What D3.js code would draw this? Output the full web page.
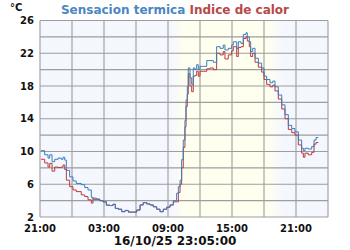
<!DOCTYPE html>
<html>
<head>
<meta charset="utf-8">
<script src="https://cdn.jsdelivr.net/npm/d3@7"></script>
<style>
  body { margin: 0; background: #fff; }
  text { font-family: "DejaVu Sans", sans-serif; font-weight: bold; }
</style>
</head>
<body>
<svg id="chart" width="350" height="250"></svg>
<script>
// hours elapsed since 15/10 21:00
const hours = [0.09, 0.44, 0.75, 0.91, 1.13, 1.38, 1.69, 2.0, 2.16, 2.32, 2.47, 2.78, 3.09, 3.40,
  3.87, 4.19, 4.5, 4.81, 4.97, 5.28, 5.6, 5.91, 6.22, 6.53, 6.84, 7.06, 7.34, 7.66, 7.97, 8.28,
  8.75, 9.07, 9.38, 9.68, 10.0, 10.31, 10.62, 10.94, 11.25, 11.56, 11.88, 12.19, 12.5, 12.81,
  12.97, 13.13, 13.28, 13.43, 13.59, 13.69, 13.81, 13.9, 14.06, 14.22, 14.37, 14.53, 14.69, 14.84,
  15.0, 15.31, 15.63, 15.94, 16.25, 16.56, 16.88, 17.18, 17.34, 17.65, 17.97, 18.12, 18.44, 18.59,
  18.84, 19.06, 19.31, 19.43, 19.62, 19.75, 19.94, 20.16, 20.47, 20.78, 21.0, 21.25, 21.56, 21.82,
  22.03, 22.34, 22.66, 22.97, 23.28, 23.6, 23.9, 24.22, 24.53, 24.69, 24.84, 25.15, 25.47, 25.69,
  25.88, 26.09];

// sensacion termica
const sensacion = [10.1, 9.6, 9.2, 9.6, 8.75, 9.05, 9.2, 9.05, 9.3, 8.95, 7.7, 6.9, 6.4, 6.1,
  5.95, 5.6, 5.3, 4.4, 4.15, 4.2, 4.0, 3.85, 3.45, 3.4, 3.55, 3.05, 2.95, 2.65, 2.8, 2.6,
  2.6, 2.85, 3.47, 3.75, 3.6, 3.47, 3.25, 2.95, 2.65, 2.95, 3.2, 3.47, 4.0, 4.9,
  5.7, 6.5, 9.0, 11.4, 13.8, 16.3, 17.9, 20.2, 19.0, 18.2, 20.2, 20.0, 20.6, 20.0,
  20.4, 20.4, 21.1, 21.1, 20.9, 22.8, 22.6, 23.0, 22.4, 22.6, 23.0, 23.4, 22.6, 23.4,
  23.2, 24.3, 24.5, 24.0, 23.4, 22.2, 22.6, 21.4, 20.8, 20.2, 19.2, 18.8, 18.4, 18.6,
  17.9, 16.9, 15.7, 14.5, 13.2, 12.8, 12.4, 11.4, 10.4, 10.1, 10.4, 10.3, 10.6, 11.4,
  11.7, 11.7];

// indice de calor
const indice = [9.05, 8.6, 8.1, 8.55, 7.6, 8.1, 8.05, 8.1, 8.35, 7.8, 6.5, 5.7, 5.3, 5.1,
  4.7, 4.5, 4.1, 3.7, 4.3, 4.15, 4.0, 3.85, 3.45, 3.4, 3.55, 3.05, 2.95, 2.65, 2.8, 2.6,
  2.6, 2.85, 3.47, 3.75, 3.6, 3.47, 3.25, 2.95, 2.65, 2.95, 3.2, 3.47, 3.85, 3.85,
  5.0, 6.0, 8.0, 10.5, 13.0, 15.5, 17.0, 19.5, 18.0, 17.3, 19.2, 19.3, 19.8, 19.2,
  19.8, 19.8, 20.1, 20.2, 20.0, 22.0, 21.8, 22.2, 21.3, 21.8, 22.3, 22.8, 21.6, 22.7,
  22.8, 23.8, 24.0, 23.5, 22.8, 21.6, 22.0, 20.9, 20.3, 19.7, 18.8, 18.2, 17.9, 18.1,
  17.4, 16.4, 15.2, 14.0, 12.7, 12.3, 12.0, 10.8, 9.8, 9.3, 9.8, 9.6, 9.9, 10.9,
  11.1, 11.1];

const xTicks = [0, 6, 12, 18, 24];
const xTickLabels = ['21:00', '03:00', '09:00', '15:00', '21:00'];
const yTicks = [2, 6, 10, 14, 18, 22, 26];

const stamp = '16/10/25 23:05:00';

const margin = { top: 20.5, right: 22, bottom: 33, left: 40 };
const width = 350;
const height = 250;

const blue = '#3a7dbf';
const red = '#bb3a3d';
const gridColor = '#9d9d9d';

const svg = d3.select('#chart');

const x = d3.scaleLinear()
            .domain([0, 27])
            .range([margin.left, width - margin.right]);

const y = d3.scaleLinear()
            .domain([2, 26])
            .range([height - margin.bottom, margin.top]);

// night / day background
const defs = svg.append('defs');
const grad = defs.append('linearGradient')
                 .attr('id', 'daylight')
                 .attr('gradientUnits', 'userSpaceOnUse')
                 .attr('x1', x(0)).attr('x2', x(27))
                 .attr('y1', 0).attr('y2', 0);

const night = '#f5f7fe';
const day = '#fffff0';
[[0, night], [12.3, night], [13.5, day], [21.4, day], [22.8, night], [27, night]].forEach(s => {
  grad.append('stop')
      .attr('offset', s[0] / 27)
      .attr('stop-color', s[1]);
});

svg.append('rect')
   .attr('x', x(0))
   .attr('y', y(26))
   .attr('width', x(27) - x(0))
   .attr('height', y(2) - y(26))
   .attr('fill', 'url(#daylight)');

// grid
const grid = svg.append('g').attr('id', 'grid');
grid.selectAll('.vline')
    .data(d3.range(0, 28, 3))
    .enter().append('line')
    .attr('x1', d => x(d)).attr('x2', d => x(d))
    .attr('y1', y(26)).attr('y2', y(2))
    .attr('stroke', gridColor)
    .attr('stroke-width', 1.1);

grid.selectAll('.hline')
    .data(d3.range(2, 27, 2))
    .enter().append('line')
    .attr('x1', x(0)).attr('x2', x(27))
    .attr('y1', d => y(d)).attr('y2', d => y(d))
    .attr('stroke', gridColor)
    .attr('stroke-width', 1.1);

// series
const line = d3.line()
               .x(d => x(d[0]))
               .y(d => y(d[1]))
               .curve(d3.curveStepAfter);

svg.append('path')
   .datum(d3.zip(hours, indice))
   .attr('d', line)
   .attr('fill', 'none')
   .attr('stroke', red)
   .attr('stroke-width', 1);

svg.append('path')
   .datum(d3.zip(hours, sensacion))
   .attr('d', line)
   .attr('fill', 'none')
   .attr('stroke', blue)
   .attr('stroke-width', 1);

// axes labels
svg.append('g')
   .selectAll('text')
   .data(yTicks)
   .enter().append('text')
   .attr('x', 34)
   .attr('y', d => y(d) + 3.5)
   .attr('text-anchor', 'end')
   .attr('font-size', 10)
   .attr('fill', '#111')
   .text(d => d);

svg.append('g')
   .selectAll('text')
   .data(xTicks)
   .enter().append('text')
   .attr('x', d => x(d))
   .attr('y', 232)
   .attr('text-anchor', 'middle')
   .attr('font-size', 10)
   .attr('fill', '#111')
   .text((d, i) => xTickLabels[i]);

svg.append('text')
   .attr('x', 10)
   .attr('y', 11)
   .attr('font-size', 10)
   .attr('fill', '#111')
   .text('°C');

const title = svg.append('text')
                 .attr('x', 175)
                 .attr('y', 14)
                 .attr('text-anchor', 'middle')
                 .attr('font-size', 12);
title.append('tspan').attr('fill', '#4a87c2').text('Sensacion termica ');
title.append('tspan').attr('fill', '#b84848').text('Indice de calor');

svg.append('text')
   .attr('x', 175)
   .attr('y', 245)
   .attr('text-anchor', 'middle')
   .attr('font-size', 12)
   .style('font-weight', 600)
   .attr('fill', '#111')
   .text(stamp);
</script>
</body>
</html>
